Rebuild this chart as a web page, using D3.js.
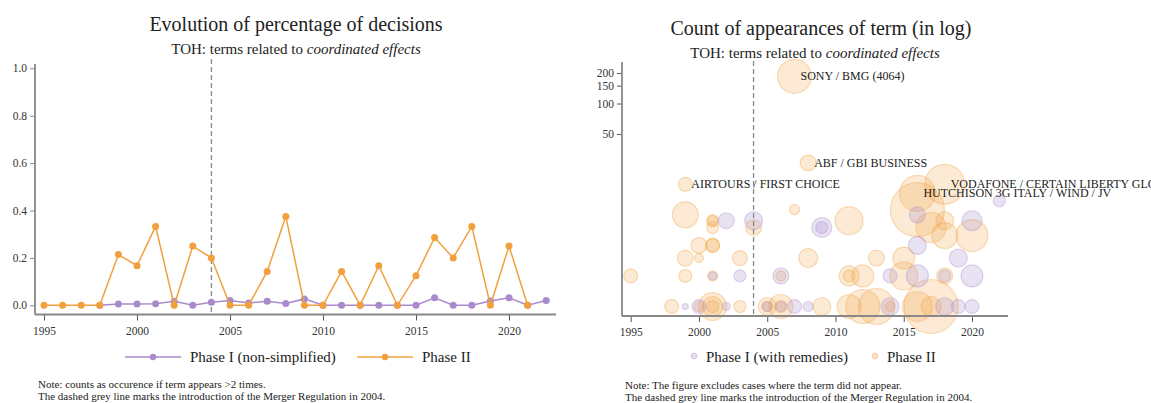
<!DOCTYPE html>
<html><head><meta charset="utf-8">
<script src="https://cdn.jsdelivr.net/npm/d3@7"></script>
<style>
body{margin:0;background:#fff;}
svg, svg text{font-family:"Liberation Serif","Times New Roman",serif;}
</style></head>
<body><svg id="c" width="1151" height="403"></svg>
<script>
// ---------- LEFT CHART DATA ----------
const years2 = d3.range(1995, 2022);           // Phase II years 1995..2021
const phase2Share = [0,0,0,0,0.214,0.167,0.333,0,0.25,0.2,0,0,0.143,0.375,0,0,0.143,0,0.167,0,0.125,0.286,0.2,0.333,0,0.25,0];
const years1 = d3.range(1998, 2023);           // Phase I years 1998..2022
const phase1Share = [0,0.006,0.006,0.007,0.017,0,0.013,0.02,0.01,0.017,0.008,0.027,0,0,0,0,0,0,0.032,0,0,0.018,0.032,0,0.02];
const leftYTicks = [0,0.2,0.4,0.6,0.8,1.0];
const xTicks = [1995,2000,2005,2010,2015,2020];
const regulationYear = 2004;

// ---------- RIGHT CHART DATA (bubbles) ----------
const bubbleYear  = [1995,1998,1999,1999,1999,1999,2000,2000,2000,2001,2001,2001,2001,2001,2001,2001,2001,2001,2003,2003,2004,2005,2005,2006,2006,2006,2007,2007,2008,2008,2009,2011,2011,2011,2011,2012,2012,2013,2013,2014,2015,2015,2016,2016,2016,2017,2017,2017,2018,2018,2018,2018,2020,
                     1999,2000,2001,2002,2002,2003,2004,2005,2006,2006,2007,2008,2009,2009,2014,2014,2016,2016,2016,2018,2018,2019,2019,2020,2020,2020,2022];
const bubbleCount = [2,1,2,3,8,16,1,3,4,1,1,1,2,4,4,6,7,7,1,3,6,1,1,1,1,2,9,185,3,26,1,1,2,2,7,1,2,1,3,1,2,3,1,9,13,1,1,6,2,5,7,16,5,
                     1,1,2,1,7,2,7,1,1,2,1,1,6,6,1,2,2,4,8,1,2,1,3,1,2,7,11];
const bubbleSize  = [54,54,47,71,188,54,28,22,71,218,111,40,28,54,54,40,40,28,40,62,71,90,28,160,40,28,28,321,100,71,90,160,111,40,218,321,134,360,71,28,218,134,250,810,360,810,111,250,71,188,90,444,284,
                     10,54,18,18,71,40,90,28,28,71,54,28,111,40,90,54,134,90,71,90,40,54,90,54,134,111,40];
const bubblePhase = ["II","II","II","II","II","II","II","II","II","II","II","II","II","II","II","II","II","II","II","II","II","II","II","II","II","II","II","II","II","II","II","II","II","II","II","II","II","II","II","II","II","II","II","II","II","II","II","II","II","II","II","II","II",
                     "I","I","I","I","I","I","I","I","I","I","I","I","I","I","I","I","I","I","I","I","I","I","I","I","I","I","I"];
const caseLabels = [
  {year:1999, count:16, text:"AIRTOURS / FIRST CHOICE"},
  {year:2007, count:185, text:"SONY / BMG (4064)"},
  {year:2008, count:26, text:"ABF / GBI BUSINESS"},
  {year:2018, count:16, text:"VODAFONE / CERTAIN LIBERTY GLOBAL ASSETS"},
  {year:2016, count:13, text:"HUTCHISON 3G ITALY / WIND / JV"}
];
const rightYTicks = [50,100,150,200];

const ORANGE = "#f2a03d", PURPLE = "#a98bcb", GREY = "#888";
const FONT = "Liberation Serif, Times New Roman, serif";
const svg = d3.select("#c");

// ================= LEFT =================
const xL = d3.scaleLinear().domain([1995, 2022]).range([44, 546.2]);
const yL = d3.scaleLinear().domain([0, 1]).range([305.3, 68.3]);
const L = svg.append("g");

L.append("text").attr("x",296).attr("y",31).attr("text-anchor","middle").attr("font-size",20).attr("fill","#222")
 .text("Evolution of percentage of decisions");
const sl = L.append("text").attr("x",296).attr("y",54).attr("text-anchor","middle").attr("font-size",15).attr("fill","#222");
sl.append("tspan").text("TOH: terms related to ");
sl.append("tspan").attr("font-style","italic").text("coordinated effects");

const axL = L.append("g").attr("transform","translate(35,0)")
 .call(d3.axisLeft(yL).tickValues(leftYTicks).tickFormat(d3.format(".1f")).tickSize(5).tickPadding(3));
axL.select(".domain").remove();
axL.selectAll("line").attr("stroke",GREY);
axL.selectAll("text").attr("font-size",11.5).attr("fill","#333");
L.append("line").attr("x1",35).attr("x2",35).attr("y1",64).attr("y2",314.5).attr("stroke",GREY).attr("stroke-width",1.8);

const bxL = L.append("g").attr("transform","translate(0,314.5)")
 .call(d3.axisBottom(xL).tickValues(xTicks).tickFormat(d3.format("d")).tickSize(6).tickPadding(6));
bxL.select(".domain").remove();
bxL.selectAll("line").attr("stroke","#555");
bxL.selectAll("text").attr("font-size",11.5).attr("fill","#333");
L.append("line").attr("x1",35).attr("x2",556).attr("y1",314.5).attr("y2",314.5).attr("stroke",GREY).attr("stroke-width",1.8);

L.append("line").attr("x1",xL(regulationYear)).attr("x2",xL(regulationYear)).attr("y1",59).attr("y2",314)
 .attr("stroke",GREY).attr("stroke-width",1.3).attr("stroke-dasharray","5,3");

const line = d3.line().x(d=>xL(d[0])).y(d=>yL(d[1]));
const p1 = years1.map((y,i)=>[y,phase1Share[i]]);
const p2 = years2.map((y,i)=>[y,phase2Share[i]]);
L.append("path").attr("d",line(p1)).attr("fill","none").attr("stroke",PURPLE).attr("stroke-width",1.5);
L.selectAll(".m1").data(p1).join("circle").attr("cx",d=>xL(d[0])).attr("cy",d=>yL(d[1])).attr("r",3.5).attr("fill",PURPLE);
L.append("path").attr("d",line(p2)).attr("fill","none").attr("stroke",ORANGE).attr("stroke-width",1.5);
L.selectAll(".m2").data(p2).join("circle").attr("cx",d=>xL(d[0])).attr("cy",d=>yL(d[1])).attr("r",3.5).attr("fill",ORANGE);

// legend left
[[125,PURPLE,"Phase I (non-simplified)"],[357,ORANGE,"Phase II"]].forEach(([x,c,t])=>{
  L.append("line").attr("x1",x).attr("x2",x+56).attr("y1",357).attr("y2",357).attr("stroke",c).attr("stroke-width",1.5);
  L.append("circle").attr("cx",x+28).attr("cy",357).attr("r",3.2).attr("fill",c);
  L.append("text").attr("x",x+65).attr("y",362).attr("font-size",15).attr("fill","#222").text(t);
});
L.append("text").attr("x",38).attr("y",388).attr("font-size",11).attr("fill","#222").text("Note: counts as occurence if term appears >2 times.");
L.append("text").attr("x",38).attr("y",400).attr("font-size",11).attr("fill","#222").text("The dashed grey line marks the introduction of the Merger Regulation in 2004.");

// ================= RIGHT =================
const xR = d3.scaleLinear().domain([1995, 2020]).range([630.7, 972]);
const yR = d3.scaleLog().domain([1, 100]).range([306.5, 103.5]);
const rR = d3.scaleSqrt().domain([0, 1000]).range([0, 30]);
const R = svg.append("g");

R.append("text").attr("x",821).attr("y",35).attr("text-anchor","middle").attr("font-size",20).attr("fill","#222")
 .text("Count of appearances of term (in log)");
const sr = R.append("text").attr("x",815).attr("y",58).attr("text-anchor","middle").attr("font-size",15).attr("fill","#222");
sr.append("tspan").text("TOH: terms related to ");
sr.append("tspan").attr("font-style","italic").text("coordinated effects");

const bubbles = bubbleYear.map((y,i)=>({year:y,count:bubbleCount[i],size:bubbleSize[i],phase:bubblePhase[i]}));
const bg = R.append("g");
bg.selectAll("circle").data(bubbles).join("circle")
 .attr("cx",d=>xR(d.year)).attr("cy",d=>yR(d.count)).attr("r",d=>rR(d.size))
 .attr("fill",d=>d.phase==="II"?ORANGE:PURPLE).attr("fill-opacity",d=>d.phase==="II"?0.22:0.25)
 .attr("stroke",d=>d.phase==="II"?ORANGE:PURPLE).attr("stroke-opacity",0.35).attr("stroke-width",1.2);

R.selectAll(".lab").data(caseLabels).join("text")
 .attr("x",d=>xR(d.year)+6).attr("y",d=>yR(d.count)+4).attr("font-size",12).attr("fill","#222").text(d=>d.text);

const axR = R.append("g").attr("transform","translate(622,0)")
 .call(d3.axisLeft(yR).tickValues(rightYTicks).tickFormat(d3.format("d")).tickSize(5).tickPadding(3));
axR.select(".domain").remove();
axR.selectAll("line").attr("stroke","#555");
axR.selectAll("text").attr("font-size",11.5).attr("fill","#333");
R.append("line").attr("x1",622).attr("x2",622).attr("y1",62).attr("y2",316).attr("stroke",GREY).attr("stroke-width",1.8);

const bxR = R.append("g").attr("transform","translate(0,316)")
 .call(d3.axisBottom(xR).tickValues(xTicks).tickFormat(d3.format("d")).tickSize(6).tickPadding(6));
bxR.select(".domain").remove();
bxR.selectAll("line").attr("stroke","#555");
bxR.selectAll("text").attr("font-size",11.5).attr("fill","#333");
R.append("line").attr("x1",622).attr("x2",1008).attr("y1",316).attr("y2",316).attr("stroke",GREY).attr("stroke-width",1.8);

R.append("line").attr("x1",xR(regulationYear)).attr("x2",xR(regulationYear)).attr("y1",61).attr("y2",315)
 .attr("stroke",GREY).attr("stroke-width",1.3).attr("stroke-dasharray","5,3");

// legend right
[[694,PURPLE,"Phase I (with remedies)"],[875,ORANGE,"Phase II"]].forEach(([x,c,t])=>{
  R.append("circle").attr("cx",x).attr("cy",356).attr("r",3).attr("fill",c).attr("fill-opacity",0.3).attr("stroke",c).attr("stroke-opacity",0.35);
  R.append("text").attr("x",x+12).attr("y",362).attr("font-size",15).attr("fill","#222").text(t);
});
R.append("text").attr("x",625).attr("y",389).attr("font-size",11).attr("fill","#222").text("Note: The figure excludes cases where the term did not appear.");
R.append("text").attr("x",625).attr("y",401).attr("font-size",11).attr("fill","#222").text("The dashed grey line marks the introduction of the Merger Regulation in 2004.");

// ensure serif font everywhere (axis groups set sans-serif by default)
svg.selectAll("g").attr("font-family", FONT);
svg.selectAll("text").attr("font-family", FONT);
</script></body></html>
